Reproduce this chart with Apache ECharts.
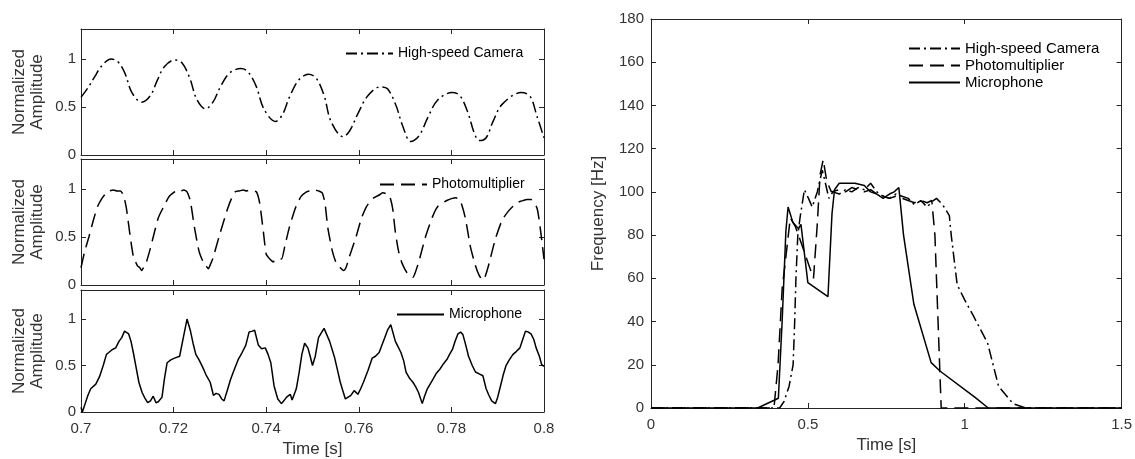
<!DOCTYPE html>
<html>
<head>
<meta charset="utf-8">
<script src="https://cdn.jsdelivr.net/npm/echarts@6/dist/echarts.min.js"></script>
<style>html,body{margin:0;padding:0;background:#fff}#c{width:1135px;height:459px}</style>
</head>
<body>
<div id="c"></div>
<script>
// ---------------- data ----------------
const seriesNames = ['High-speed Camera', 'Photomultiplier', 'Microphone'];
const leftXTicks = [0.7, 0.72, 0.74, 0.76, 0.78, 0.8];
const leftYTicks = [0, 0.5, 1];
const rightXTicks = [0, 0.5, 1, 1.5];
const rightYTicks = [0, 20, 40, 60, 80, 100, 120, 140, 160, 180];

// High-speed camera (time [s], normalized amplitude)
const camT = [0.7000,0.7015,0.7030,0.7045,0.7065,0.7080,0.7095,0.7110,0.7131,0.7150,0.7165,0.7180,0.7202,0.7218,0.7235,0.7250,0.7269,0.7285,0.7300,0.7320,0.7345,0.7360,0.7378,0.7395,0.7420,0.7435,0.7450,0.7470,0.7491,0.7508,0.7525,0.7540,0.7566,0.7580,0.7600,0.7620,0.7647,0.7662,0.7680,0.7695,0.7712,0.7730,0.7750,0.7770,0.7801,0.7818,0.7835,0.7850,0.7860,0.7875,0.7890,0.7910,0.7951,0.7970,0.7985,0.8000];
const camV = [0.60,0.70,0.82,0.93,1.00,0.97,0.85,0.65,0.55,0.62,0.78,0.92,0.99,0.96,0.80,0.58,0.48,0.55,0.70,0.85,0.90,0.87,0.72,0.48,0.35,0.42,0.60,0.78,0.84,0.80,0.62,0.35,0.19,0.25,0.45,0.62,0.71,0.69,0.52,0.30,0.14,0.20,0.40,0.57,0.65,0.62,0.45,0.22,0.15,0.18,0.35,0.53,0.65,0.61,0.40,0.18];

// Photomultiplier
const pmtT = [0.7000,0.7008,0.7017,0.7027,0.7036,0.7045,0.7055,0.7062,0.7070,0.7078,0.7085,0.7092,0.7098,0.7105,0.7113,0.7122,0.7127,0.7131,0.7136,0.7140,0.7148,0.7156,0.7167,0.7179,0.7190,0.7202,0.7208,0.7215,0.7222,0.7229,0.7236,0.7245,0.7255,0.7263,0.7270,0.7275,0.7280,0.7285,0.7298,0.7308,0.7317,0.7325,0.7333,0.7342,0.7350,0.7358,0.7365,0.7372,0.7379,0.7386,0.7394,0.7400,0.7406,0.7410,0.7415,0.7420,0.7425,0.7433,0.7440,0.7450,0.7463,0.7475,0.7487,0.7495,0.7505,0.7513,0.7521,0.7527,0.7533,0.7543,0.7552,0.7560,0.7567,0.7573,0.7580,0.7594,0.7606,0.7617,0.7630,0.7645,0.7652,0.7660,0.7667,0.7673,0.7679,0.7686,0.7694,0.7705,0.7712,0.7717,0.7722,0.7730,0.7744,0.7760,0.7771,0.7790,0.7800,0.7810,0.7815,0.7820,0.7830,0.7841,0.7852,0.7860,0.7868,0.7873,0.7880,0.7895,0.7910,0.7925,0.7940,0.7948,0.7955,0.7963,0.7972,0.7985,0.7993,0.8000];
const pmtV = [0.18,0.35,0.50,0.68,0.82,0.90,0.96,0.98,0.99,0.98,0.98,0.93,0.80,0.55,0.30,0.20,0.18,0.15,0.19,0.22,0.35,0.50,0.70,0.82,0.92,0.97,0.99,0.98,0.99,0.97,0.88,0.60,0.35,0.25,0.20,0.17,0.22,0.28,0.50,0.66,0.80,0.90,0.97,0.98,0.99,0.98,0.99,0.98,0.97,0.85,0.55,0.32,0.28,0.26,0.24,0.27,0.27,0.27,0.40,0.60,0.80,0.92,0.97,0.98,0.99,0.98,0.96,0.85,0.60,0.35,0.22,0.18,0.15,0.19,0.30,0.50,0.70,0.82,0.90,0.94,0.96,0.95,0.92,0.80,0.55,0.35,0.22,0.12,0.10,0.08,0.13,0.25,0.50,0.72,0.82,0.88,0.90,0.91,0.89,0.87,0.70,0.40,0.20,0.10,0.05,0.09,0.20,0.48,0.68,0.78,0.85,0.87,0.88,0.89,0.89,0.80,0.55,0.27];

// Microphone
const micT = [0.7000,0.7003,0.7009,0.7015,0.7021,0.7032,0.7040,0.7048,0.7055,0.7060,0.7067,0.7075,0.7082,0.7088,0.7094,0.7098,0.7103,0.7108,0.7113,0.7119,0.7125,0.7132,0.7138,0.7144,0.7150,0.7156,0.7162,0.7167,0.7175,0.7180,0.7186,0.7194,0.7202,0.7213,0.7221,0.7229,0.7236,0.7242,0.7248,0.7255,0.7263,0.7270,0.7279,0.7286,0.7292,0.7298,0.7304,0.7309,0.7317,0.7323,0.7329,0.7340,0.7348,0.7356,0.7363,0.7370,0.7375,0.7383,0.7390,0.7398,0.7404,0.7410,0.7417,0.7425,0.7433,0.7438,0.7444,0.7452,0.7456,0.7460,0.7465,0.7471,0.7477,0.7483,0.7490,0.7495,0.7500,0.7506,0.7513,0.7520,0.7525,0.7531,0.7537,0.7548,0.7554,0.7560,0.7566,0.7571,0.7577,0.7583,0.7590,0.7598,0.7604,0.7610,0.7620,0.7629,0.7636,0.7644,0.7650,0.7656,0.7662,0.7669,0.7674,0.7679,0.7685,0.7691,0.7697,0.7702,0.7710,0.7717,0.7723,0.7729,0.7737,0.7742,0.7748,0.7754,0.7760,0.7768,0.7775,0.7783,0.7791,0.7796,0.7802,0.7808,0.7814,0.7820,0.7825,0.7831,0.7837,0.7845,0.7852,0.7860,0.7868,0.7875,0.7881,0.7887,0.7895,0.7900,0.7906,0.7912,0.7918,0.7925,0.7933,0.7940,0.7948,0.7954,0.7960,0.7966,0.7972,0.7978,0.7983,0.7990,0.7995,0.8000];
const micV = [0.05,0.00,0.09,0.18,0.25,0.30,0.38,0.50,0.62,0.64,0.67,0.69,0.76,0.80,0.87,0.85,0.84,0.76,0.64,0.48,0.32,0.21,0.15,0.10,0.12,0.17,0.10,0.11,0.16,0.35,0.53,0.56,0.58,0.60,0.80,1.00,0.88,0.74,0.62,0.56,0.48,0.40,0.32,0.18,0.20,0.19,0.14,0.12,0.25,0.35,0.43,0.57,0.64,0.72,0.86,0.87,0.88,0.72,0.68,0.69,0.62,0.53,0.28,0.14,0.09,0.12,0.16,0.19,0.13,0.11,0.25,0.42,0.62,0.74,0.69,0.60,0.50,0.60,0.80,0.86,0.90,0.83,0.76,0.58,0.45,0.32,0.22,0.14,0.16,0.18,0.23,0.19,0.25,0.32,0.45,0.58,0.60,0.64,0.72,0.80,0.88,0.94,0.85,0.76,0.70,0.64,0.55,0.43,0.36,0.32,0.27,0.21,0.09,0.17,0.25,0.30,0.35,0.42,0.46,0.52,0.57,0.62,0.67,0.76,0.84,0.86,0.83,0.72,0.60,0.50,0.43,0.41,0.39,0.25,0.18,0.12,0.09,0.16,0.28,0.40,0.50,0.56,0.62,0.65,0.69,0.78,0.87,0.86,0.84,0.78,0.69,0.60,0.51,0.49];

// Frequency estimates (time [s], frequency [Hz])
const fCamT = [0,0.410,0.424,0.440,0.453,0.458,0.462,0.468,0.475,0.489,0.502,0.514,0.530,0.546,0.556,0.567,0.580,0.600,0.620,0.640,0.660,0.680,0.700,0.720,0.740,0.760,0.780,0.800,0.820,0.840,0.860,0.880,0.900,0.910,0.930,0.951,0.957,0.976,1.000,1.030,1.073,1.108,1.154,1.195,1.5];
const fCam  = [0,0,3,10,20,40,60,80,88,101,97,93,100,110,104,97,100,99,101,100,102,101,104,100,98,97,99,98,97,94,96,93,96,97,94,89,80,57,50,42,30,10,2,0,0];
const fPmtT = [0,0.392,0.405,0.418,0.430,0.444,0.460,0.470,0.518,0.530,0.539,0.549,0.560,0.575,0.600,0.620,0.640,0.660,0.680,0.700,0.720,0.740,0.760,0.780,0.800,0.820,0.840,0.860,0.880,0.895,0.905,0.915,0.925,1.5];
const fPmt  = [0,0,20,55,70,88,84,80,60,85,108,115,105,100,101,100,102,101,100,101,99,98,97,98,97,96,95,96,95,96,80,40,0,0];
const fMicT = [0,0.340,0.406,0.418,0.430,0.437,0.452,0.470,0.478,0.500,0.564,0.577,0.585,0.600,0.650,0.680,0.700,0.720,0.740,0.760,0.775,0.790,0.805,0.838,0.893,0.922,1.032,1.075,1.5];
const fMic  = [0,0,4.5,40,82,93,86,83,85,58,51.5,90,101,104,104,103,100,99,97,99,100,102,80,48,21,17,5,0,0];

// ---------------- chart ----------------
const zip = (a, b) => a.map((x, i) => [x, b[i]]);
const FONT = '"Liberation Sans", Arial, Helvetica, sans-serif';
const AX = '#262626';
const TXT = '#333333';
const DASH = [14, 7];
const DASHDOT = [11, 4, 2, 4];

const grids = [
  {left: 81, top: 29, width: 463, height: 126},
  {left: 81, top: 159, width: 463, height: 126},
  {left: 81, top: 290, width: 463, height: 125},
  {left: 651, top: 19, width: 472, height: 396}
];

function xAx(g, bottom) {
  const isRight = g === 3;
  const ticks = isRight ? rightXTicks : leftXTicks;
  const showLabel = bottom && (g === 2 || g === 3);
  return {
    type: 'value', gridIndex: g, position: bottom ? 'bottom' : 'top',
    min: ticks[0], max: ticks[ticks.length - 1], interval: ticks[1] - ticks[0],
    axisLine: {show: true, onZero: false, lineStyle: {color: AX, width: 1}},
    axisTick: {show: true, inside: true, length: 5, lineStyle: {color: AX}},
    axisLabel: {show: showLabel, color: TXT, fontSize: 15, fontFamily: FONT, margin: 9,
      formatter: v => String(+v.toFixed(2))},
    splitLine: {show: false},
    name: showLabel ? 'Time [s]' : '', nameLocation: 'middle', nameGap: 29,
    nameTextStyle: {color: TXT, fontSize: 17, fontFamily: FONT}
  };
}
function yAx(g, left) {
  const isRight = g === 3;
  const ticks = isRight ? rightYTicks : leftYTicks;
  return {
    type: 'value', gridIndex: g, position: left ? 'left' : 'right',
    min: 0, max: isRight ? 180 : 1.3125, interval: ticks[1] - ticks[0],
    axisLine: {show: true, onZero: false, lineStyle: {color: AX, width: 1}},
    axisTick: {show: true, inside: true, length: 5, lineStyle: {color: AX}},
    axisLabel: {show: left, color: TXT, fontSize: 15, fontFamily: FONT, margin: isRight ? 7 : 5,
      showMaxLabel: isRight, formatter: v => ticks.indexOf(+v.toFixed(3)) >= 0 ? String(+v.toFixed(2)) : ''},
    splitLine: {show: false},
    name: left ? (isRight ? 'Frequency [Hz]' : 'Normalized\nAmplitude') : '',
    nameLocation: 'middle', nameGap: isRight ? 44 : 35,
    nameTextStyle: {color: TXT, fontSize: 17, fontFamily: FONT, lineHeight: 18}
  };
}

const xAxis = [0,1,2,3].map(g => xAx(g, true)).concat([0,1,2,3].map(g => xAx(g, false)));
const yAxis = [0,1,2,3].map(g => yAx(g, true)).concat([0,1,2,3].map(g => yAx(g, false)));

function lineSeries(name, data, idx, type, smooth) {
  return {
    name, type: 'line', data, xAxisIndex: idx, yAxisIndex: idx,
    showSymbol: false, symbol: 'none', smooth: smooth || false,
    lineStyle: {color: '#000', width: 1.5, type},
    itemStyle: {color: '#000'}, silent: true, animation: false
  };
}

const series = [
  lineSeries(seriesNames[0], zip(camT, camV), 0, DASHDOT, 0.35),
  lineSeries(seriesNames[1], zip(pmtT, pmtV), 1, DASH, 0.2),
  lineSeries(seriesNames[2], zip(micT, micV), 2, 'solid', false),
  lineSeries(seriesNames[0], zip(fCamT, fCam), 3, DASHDOT, false),
  lineSeries(seriesNames[1], zip(fPmtT, fPmt), 3, DASH, false),
  lineSeries(seriesNames[2], zip(fMicT, fMic), 3, 'solid', false)
];

const legBase = {
  orient: 'vertical', padding: 0, itemHeight: 12, selectedMode: false,
  itemStyle: {opacity: 0, borderWidth: 0},
  textStyle: {color: '#000', fontSize: 14, fontFamily: FONT, lineHeight: 15}
};
const legend = [
  Object.assign({}, legBase, {data: [seriesNames[0]], left: 345, top: 46, itemWidth: 47}),
  Object.assign({}, legBase, {data: [seriesNames[1]], left: 379, top: 177, itemWidth: 47}),
  Object.assign({}, legBase, {data: [seriesNames[2]], left: 396, top: 307, itemWidth: 47}),
  Object.assign({}, legBase, {data: seriesNames, left: 908, top: 41, itemWidth: 51, itemGap: 2,
    textStyle: {color: '#000', fontSize: 15, fontFamily: FONT, lineHeight: 15}})
];

const chart = echarts.init(document.getElementById('c'), null, {renderer: 'canvas'});
chart.setOption({
  animation: false,
  backgroundColor: '#fff',
  grid: grids,
  xAxis, yAxis, series, legend
});
</script>
</body>
</html>
